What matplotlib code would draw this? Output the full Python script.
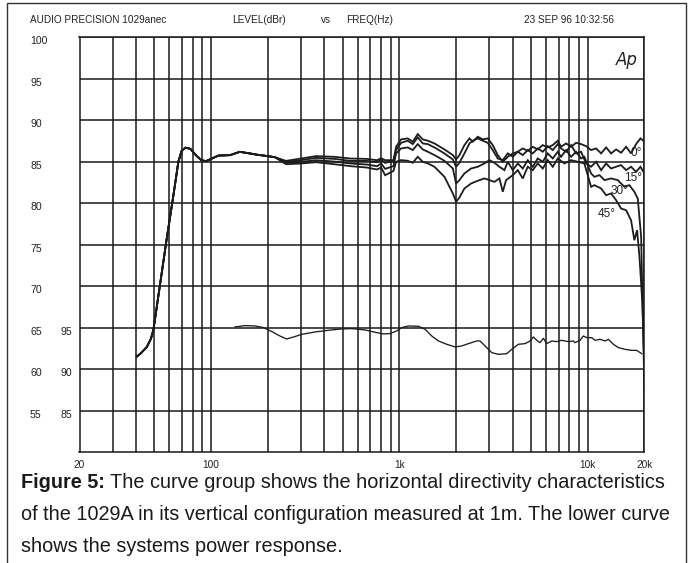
import matplotlib
matplotlib.use('Agg')
import matplotlib.pyplot as plt
import matplotlib.transforms as mtransforms
from matplotlib.patches import Rectangle

# ---- data ----
# low-frequency part, identical for all four angles (Hz, dBr)
lf_freq = [40.3, 42.3, 45.5, 47.9, 49.4, 58.0, 63.1, 67.0, 69.7, 73.0, 77.6,
           83.0, 88.6, 93.9, 101, 109.5, 126, 142, 161, 177, 197, 218]
lf_level = [61.5, 61.9, 62.65, 63.66, 64.75, 75.6, 81.0, 85.0, 86.3, 86.7, 86.56,
            85.8, 85.2, 85.07, 85.4, 85.75, 85.8, 86.2, 86.0, 85.84, 85.7, 85.55]

# mid band, where the curves start to split
mid_freq = [250, 300, 360, 450, 550, 670, 760, 800, 840, 930]
mid_0 = [85.11, 85.39, 85.68, 85.6, 85.39, 85.35, 85.19, 85.43, 85.19, 85.19]
mid_15 = [84.99, 85.19, 85.47, 85.35, 85.11, 85.11, 84.95, 85.28, 84.87, 85.11]
mid_30 = [84.87, 84.99, 85.19, 85.03, 84.79, 84.67, 84.47, 84.79, 84.15, 84.47]
mid_45 = [84.71, 84.79, 84.95, 84.71, 84.47, 84.31, 84.07, 84.31, 83.38, 83.9]

# high band per angle
hf_freq_0 = [960, 1021, 1107, 1177, 1251, 1330, 1415, 1535, 1734, 1922, 2000, 2083,
             2214, 2355, 2452, 2606, 2770, 2945, 3130, 3328, 3538, 3762, 4000, 4252,
             4519, 4804, 5106, 5428, 5770, 6134, 6520, 6931, 7215, 7677, 8159, 8673,
             9220, 9800, 10420, 11080, 11780, 12520, 13310, 14150, 15040, 15990,
             16990, 18060, 19060, 20000]
hf_level_0 = [86.81, 87.70, 87.82, 87.42, 88.34, 87.70, 87.54, 87.21, 86.49, 85.81,
              85.28, 85.81, 87.01, 87.82, 87.42, 88.02, 87.70, 87.82, 87.01, 85.81,
              85.0, 85.60, 86.01, 86.21, 86.61, 86.33, 86.81, 86.49, 87.01, 86.73,
              87.01, 87.54, 86.81, 87.21, 86.81, 87.29, 87.13, 86.89, 86.41, 86.61,
              86.01, 86.73, 86.01, 86.49, 86.09, 86.81, 86.01, 87.13, 87.82, 87.42]

hf_freq_15 = hf_freq_0
hf_level_15 = [86.41, 87.29, 87.54, 87.13, 87.94, 87.21, 87.13, 86.73, 86.01, 85.28,
               84.40, 84.88, 86.01, 87.21, 87.54, 87.82, 87.54, 87.29, 86.41, 85.40,
               85.20, 86.01, 85.60, 86.21, 85.81, 86.41, 86.01, 86.61, 86.21, 86.89,
               86.41, 87.13, 86.61, 86.21, 87.01, 86.01, 86.21, 84.80, 84.40, 85.0,
               83.99, 84.80, 84.19, 84.40, 84.60, 83.99, 84.40, 83.79, 84.40, 83.59]

hf_freq_30 = [960, 1021, 1107, 1177, 1251, 1330, 1415, 1535, 1734, 1922, 2000, 2083,
              2214, 2402, 2606, 2827, 3005, 3195, 3397, 3611, 3762, 4000, 4252, 4519,
              4804, 5106, 5428, 5770, 6134, 6520, 6931, 7215, 7677, 8159, 8673, 9220,
              9600, 10000, 10420, 10850, 11550, 12270, 13310, 14440, 15660, 16650,
              17690, 18440, 19220, 20000]
hf_level_30 = [86.01, 86.61, 86.73, 86.41, 87.13, 86.49, 86.21, 85.81, 85.12, 84.19,
               82.38, 82.79, 83.59, 84.19, 84.40, 84.80, 85.20, 84.88, 84.40, 83.99,
               85.0, 83.99, 84.80, 84.19, 85.20, 84.40, 85.40, 85.0, 86.01, 85.40,
               86.21, 85.60, 86.41, 85.60, 86.21, 85.40, 85.60, 84.60, 83.59, 83.19,
               83.39, 82.79, 82.99, 82.79, 81.98, 82.18, 81.38, 80.57, 75.94, 57.5]

hf_freq_45 = [960, 1021, 1107, 1177, 1251, 1330, 1415, 1535, 1734, 1922, 2000, 2083,
              2214, 2402, 2606, 2827, 3005, 3195, 3397, 3538, 3686, 4000, 4252, 4519,
              4804, 5106, 5428, 5770, 6134, 6520, 6931, 7521, 8159, 8855, 9600, 10000,
              10420, 10850, 11780, 12520, 13310, 14150, 15040, 15990, 16990, 17690,
              18290, 18830, 19500, 20000]
hf_level_45 = [85.0, 85.20, 85.12, 84.88, 85.60, 85.0, 84.80, 84.40, 83.19, 81.18,
               80.17, 80.69, 81.78, 82.38, 82.71, 82.99, 82.79, 82.58, 82.99, 81.38,
               82.79, 83.39, 83.99, 82.99, 84.40, 83.99, 84.80, 84.19, 85.20, 84.40,
               85.40, 84.80, 85.20, 85.0, 84.80, 83.39, 81.98, 82.18, 81.78, 80.97,
               81.18, 80.37, 79.36, 79.16, 77.95, 75.54, 76.75, 73.53, 68.0, 60.0]

# power response (right-hand scale, dB)
power_freq = [134, 151, 171, 190, 210, 232, 252, 274, 303, 357, 420, 494, 558, 657,
              743, 822, 892, 968, 1029, 1116, 1261, 1369, 1485, 1611, 1784, 1975,
              2143, 2325, 2574, 2682, 2850, 3093, 3355, 3715, 3949, 4283, 4648, 4941,
              5146, 5361, 5583, 5815, 6057, 6440, 6845, 7277, 7893, 8390, 8564, 9106,
              9484, 9879, 10500, 10940, 11630, 12360, 12880, 13690, 14550, 15790,
              17130, 18200, 19350]
power_level = [95.08, 95.24, 95.2, 95.0, 94.52, 93.99, 93.63, 93.87, 94.19, 94.48,
               94.68, 94.84, 94.88, 94.72, 94.44, 94.24, 94.28, 94.6, 95.0, 95.2,
               95.16, 94.8, 93.99, 93.39, 92.99, 92.67, 92.79, 93.07, 93.39, 93.39,
               92.79, 91.98, 91.78, 91.86, 92.38, 92.99, 93.07, 93.39, 93.87, 93.47,
               93.19, 93.71, 93.07, 93.39, 93.31, 93.47, 93.31, 93.39, 93.19, 93.47,
               93.99, 93.79, 93.79, 93.47, 93.59, 93.39, 93.59, 92.99, 92.59, 92.38,
               92.26, 92.26, 91.86]
power_offset = 30  # right scale 95 sits on left scale 65

angle_labels = ['0°', '15°', '30°', '45°']
angle_label_pos = [(18040, 86.0), (17380, 83.0), (14830, 81.45), (12650, 78.7)]

x_major = [20, 100, 1000, 10000, 20000]
x_major_labels = ['20', '100', '1k', '10k', '20k']
x_minor = [30, 40, 50, 60, 70, 80, 90, 200, 300, 400, 500, 600, 700, 800, 900,
           2000, 3000, 4000, 5000, 6000, 7000, 8000, 9000]
y_ticks = [55, 60, 65, 70, 75, 80, 85, 90, 95, 100]
y2_ticks = [85, 90, 95]

caption_bold = 'Figure 5:'
caption_lines = ['The curve group shows the horizontal directivity characteristics',
                 'of the 1029A in its vertical configuration measured at 1m. The lower curve',
                 'shows the systems power response.']

# ---- figure ----
W, H = 694, 563
fig = plt.figure(figsize=(W / 100, H / 100), dpi=100)
fig.patch.set_facecolor('white')

def px(x, y):
    return x / W, 1 - y / H

left, right, top, bottom = 79.5, 644.4, 37.4, 452
ax = fig.add_axes([left / W, 1 - bottom / H, (right - left) / W, (bottom - top) / H])
ax.set_xscale('log')
ax.set_xlim(20, 20000)
ax.set_ylim(50, 100)

ax.set_xticks(x_major)
ax.set_xticklabels(x_major_labels)
ax.set_xticks(x_minor, minor=True)
ax.xaxis.set_minor_formatter(matplotlib.ticker.NullFormatter())
ax.set_yticks(y_ticks)
ax.set_yticklabels([str(v) for v in y_ticks])
ax.tick_params(which='both', length=0)
ax.tick_params(axis='x', pad=6, labelsize=7.3, labelcolor='#222222')
ax.tick_params(axis='y', pad=35.6, labelsize=7.6, labelcolor='#222222')
shift = mtransforms.ScaledTranslation(0, -0.03, fig.dpi_scale_trans)
for lab in ax.get_yticklabels():
    lab.set_horizontalalignment('left')
    lab.set_fontfamily('Liberation Sans')
    lab.set_transform(lab.get_transform() + shift)
for lab in ax.get_xticklabels():
    lab.set_fontfamily('Liberation Sans')

ax.grid(True, which='both', color='#1a1a1a', linewidth=1.1)
ax.set_axisbelow(True)
for s in ax.spines.values():
    s.set_color('#1a1a1a')
    s.set_linewidth(1.1)

# secondary scale for power response
sec = ax.secondary_yaxis('left', functions=(lambda y: y + power_offset, lambda y: y - power_offset))
sec.set_yticks(y2_ticks)
sec.set_yticklabels([str(v) for v in y2_ticks])
sec.spines['left'].set_visible(False)
sec.tick_params(length=0, pad=14, labelsize=7.6, labelcolor='#222222')
for lab in sec.get_yticklabels():
    lab.set_horizontalalignment('left')
    lab.set_fontfamily('Liberation Sans')
    lab.set_transform(lab.get_transform() + shift)

# directivity curves
curve_color = '#1c1c1c'
curves = [(hf_freq_0, mid_0, hf_level_0), (hf_freq_15, mid_15, hf_level_15),
          (hf_freq_30, mid_30, hf_level_30), (hf_freq_45, mid_45, hf_level_45)]
for hf_f, mid_l, hf_l in curves:
    f = lf_freq + mid_freq + hf_f
    l = lf_level + mid_l + hf_l
    ax.plot(f, l, color=curve_color, linewidth=1.3, solid_joinstyle='miter')

# power response
ax.plot(power_freq, [v - power_offset for v in power_level], color=curve_color, linewidth=0.95)

for lab, (fx, fy) in zip(angle_labels, angle_label_pos):
    ax.text(fx, fy, lab, fontsize=8.5, family='Liberation Sans', ha='center', va='center', color='#222222')

ax.text(0.988, 0.945, 'Ap', transform=ax.transAxes, ha='right', va='center',
        fontsize=12, fontstyle='italic', family='DejaVu Sans', color='#222222')

# header
hdr = dict(fontsize=7.2, family='Liberation Sans', va='center', ha='left', color='#222222')
fig.text(*px(30, 20), 'AUDIO PRECISION 1029anec', **hdr)
fig.text(*px(232, 20), 'LEVEL(dBr)', **hdr)
fig.text(*px(321, 20), 'vs', **hdr)
fig.text(*px(346, 20), 'FREQ(Hz)', **hdr)
fig.text(*px(524, 20), '23 SEP 96 10:32:56', **hdr)

# outer frame
fig.patches.append(Rectangle((7 / W, -0.05), (686 - 7) / W, 1.05 - 3 / H,
                             transform=fig.transFigure, fill=False,
                             edgecolor='#333333', linewidth=1.0))

# caption
cap = dict(fontsize=14.3, family='Liberation Sans', va='center', ha='left', color='#1a1a1a')
renderer = fig.canvas.get_renderer()
tb = fig.text(*px(21, 483), caption_bold, fontweight='bold', **cap)
bb = tb.get_window_extent(renderer)
fig.text((bb.x1 + 5) / W, 1 - 483 / H, caption_lines[0], **cap)
fig.text(*px(21, 514), caption_lines[1], **cap)
fig.text(*px(21, 546), caption_lines[2], **cap)

fig.savefig('out.png', dpi=100, facecolor='white')
